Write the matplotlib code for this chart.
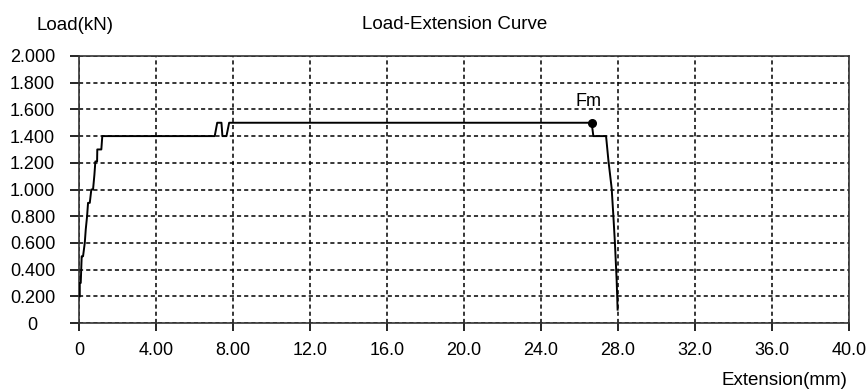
import matplotlib
matplotlib.use('Agg')
import matplotlib.pyplot as plt

# 拉伸曲线数据 (mm, kN)
extension = [0.04, 0.04, 0.09, 0.14, 0.21, 0.30, 0.35, 0.42, 0.47, 0.56,
             0.64, 0.73, 0.80, 0.85, 0.94, 0.95, 1.16, 1.21,
             7.05, 7.18, 7.40, 7.45, 7.66, 7.80,
             26.63, 26.72, 27.38, 27.50, 27.67, 27.76, 27.84, 27.93, 27.98]
load = [0.20, 0.30, 0.30, 0.50, 0.50, 0.60, 0.70, 0.80, 0.90, 0.90,
        1.00, 1.00, 1.11, 1.21, 1.21, 1.30, 1.30, 1.40,
        1.40, 1.50, 1.50, 1.40, 1.40, 1.50,
        1.50, 1.40, 1.40, 1.22, 1.01, 0.80, 0.60, 0.32, 0.10]

fm_ext = 26.63
fm_load = 1.50

x_ticks = [0, 4, 8, 12, 16, 20, 24, 28, 32, 36, 40]
x_tick_labels = ["0", "4.00", "8.00", "12.0", "16.0", "20.0", "24.0", "28.0", "32.0", "36.0", "40.0"]
y_ticks = [0, 0.2, 0.4, 0.6, 0.8, 1.0, 1.2, 1.4, 1.6, 1.8, 2.0]
y_tick_labels = ["0", "0.200", "0.400", "0.600", "0.800", "1.000", "1.200", "1.400",
                 "1.600", "1.800", "2.000"]

plt.rcParams['font.family'] = ['Liberation Sans', 'DejaVu Sans']

fig = plt.figure(figsize=(8.67, 3.92), dpi=100)
ax = fig.add_axes([79 / 867, 1 - 323 / 392, 770 / 867, 267 / 392])

ax.plot(extension, load, color='black', linewidth=1.4, zorder=3)
ax.plot([fm_ext], [fm_load], 'o', color='black', markersize=5.5, zorder=4)
ax.annotate("Fm", xy=(fm_ext, fm_load), xytext=(-2, 9), textcoords='offset points',
            ha='center', va='bottom', fontsize=13)

ax.set_xlim(0, 40)
ax.set_ylim(0, 2.0)
ax.set_xticks(x_ticks)
ax.set_xticklabels(x_tick_labels, fontsize=13)
ax.set_yticks(y_ticks)
ax.set_yticklabels(y_tick_labels, fontsize=13)
for lbl in ax.get_yticklabels():
    lbl.set_horizontalalignment('center')

ax.tick_params(axis='x', direction='out', length=6, width=1.2, pad=8)
ax.tick_params(axis='y', direction='out', length=6.5, width=1.2, pad=27)

for s in ax.spines.values():
    s.set_linewidth(1.2)
    s.set_color('#333333')

ax.grid(True, color='black', linewidth=1.1, linestyle=(0, (2.7, 2.0)))
ax.set_axisbelow(True)

fig.text(37 / 867, 1 - 30 / 392, "Load(kN)", fontsize=13.5, ha='left', va='baseline')
fig.text(455 / 867, 1 - 29 / 392, "Load-Extension Curve", fontsize=13.5, ha='center', va='baseline')
fig.text(847 / 867, 1 - 385 / 392, "Extension(mm)", fontsize=13.5, ha='right', va='baseline')

fig.savefig("out.png", dpi=100, facecolor='white')
plt.close(fig)
